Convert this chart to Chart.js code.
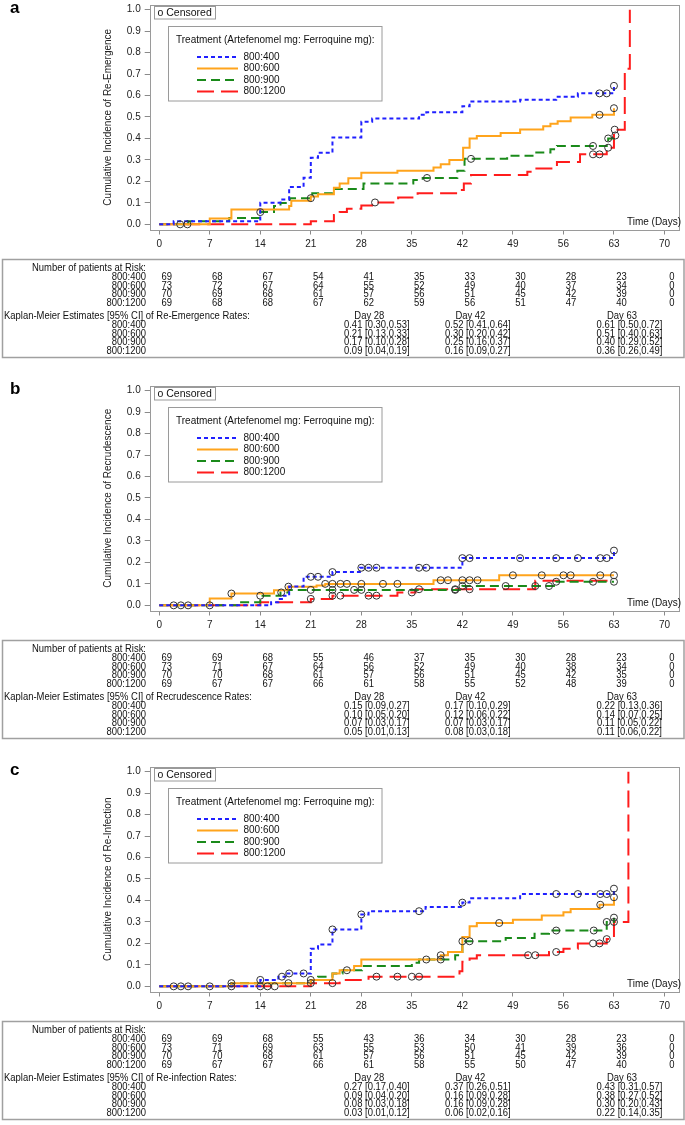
<!DOCTYPE html>
<html><head><meta charset="utf-8">
<script src="https://cdn.jsdelivr.net/npm/chart.js@4.4.1/dist/chart.umd.min.js"></script>
<style>
html,body{margin:0;padding:0;background:#fff;}
body{width:685px;height:1125px;position:relative;overflow:hidden;}
canvas{position:absolute;left:0;}
</style></head><body>
<canvas id="ca" width="685" height="362" style="top:0px"></canvas>
<canvas id="cb" width="685" height="362" style="top:381px"></canvas>
<canvas id="cc" width="685" height="362" style="top:762px"></canvas>
<script>
// ---------- shared labels ----------
const xTicks = [0,7,14,21,28,35,42,49,56,63,70];
const yTicks = [0,0.1,0.2,0.3,0.4,0.5,0.6,0.7,0.8,0.9,1.0];
const groups = ['800:400','800:600','800:900','800:1200'];
const kmDays = [28,42,63];
const letters = ['a','b','c'];
const yTitles = ['Cumulative Incidence of Re-Emergence','Cumulative Incidence of Recrudescence','Cumulative Incidence of Re-Infection'];
const kmTitles = ['Kaplan-Meier Estimates [95% CI] of Re-Emergence Rates:','Kaplan-Meier Estimates [95% CI] of Recrudescence Rates:','Kaplan-Meier Estimates [95% CI] of Re-infection Rates:'];

// ---------- panel a: re-emergence (time, cumulative incidence) ----------
const a400 = [[0,0],[2,0.0145],[14,0.101],[16.8,0.116],[18,0.174],[20,0.217],[21,0.31],[22,0.333],[24,0.405],[28,0.478],[29.5,0.493],[36,0.51],[37,0.522],[42,0.55],[43,0.572],[50,0.58],[55,0.594],[58,0.61],[63,0.645]];
const a600 = [[0,0],[7,0.027],[10,0.069],[18,0.085],[18.3,0.11],[21,0.13],[22,0.14],[24.2,0.17],[25,0.19],[26.2,0.215],[28,0.24],[33,0.25],[38,0.265],[39,0.28],[40.2,0.30],[42.1,0.357],[43,0.40],[44,0.411],[47.3,0.426],[50,0.442],[53.2,0.457],[54.2,0.469],[55.2,0.48],[57,0.498],[60,0.51],[63,0.541]];
const a900 = [[0,0],[4,0.0143],[9.7,0.029],[14,0.057],[15.9,0.085],[16.8,0.10],[18.1,0.122],[21.2,0.145],[24,0.165],[28.3,0.19],[35.2,0.207],[36.5,0.216],[41.3,0.25],[42.3,0.305],[48.2,0.32],[52.1,0.335],[54.2,0.35],[55.1,0.365],[62,0.385],[62.2,0.40],[63,0.414]];
const a1200 = [[0,0],[21,0.0145],[24.2,0.044],[25,0.058],[26,0.073],[28,0.088],[29.5,0.102],[33.1,0.125],[35.8,0.145],[41.3,0.16],[42.2,0.19],[43.2,0.23],[51,0.245],[52.1,0.26],[55.1,0.29],[58.3,0.326],[62,0.357],[63,0.441],[64.5,0.725],[65.2,1.0]];
const a400c = [61,62,63];
const a600c = [61,63];
const a900c = [14,21,37.1,43.2,60.1,62.2,63.2];
const a1200c = [2.9,3.9,29.9,60.1,61,62.2,63.1];
const aRisk400 = [69,68,67,54,41,35,33,30,28,23,0];
const aRisk600 = [73,72,67,64,55,52,49,40,37,34,0];
const aRisk900 = [70,69,68,61,57,56,51,45,42,39,0];
const aRisk1200 = [69,68,68,67,62,59,56,51,47,40,0];
const aKm400 = ['0.41 [0.30,0.53]','0.52 [0.41,0.64]','0.61 [0.50,0.72]'];
const aKm600 = ['0.21 [0.13,0.33]','0.30 [0.20,0.42]','0.51 [0.40,0.63]'];
const aKm900 = ['0.17 [0.10,0.28]','0.25 [0.16,0.37]','0.40 [0.29,0.52]'];
const aKm1200 = ['0.09 [0.04,0.19]','0.16 [0.09,0.27]','0.36 [0.26,0.49]'];

// ---------- panel b: recrudescence ----------
const b400 = [[0,0],[15.5,0.015],[16.5,0.03],[17,0.045],[18,0.088],[20,0.133],[24,0.155],[27.8,0.175],[42,0.22],[63,0.255]];
const b600 = [[0,0],[7,0.032],[10,0.055],[15.9,0.07],[17.8,0.087],[21.8,0.093],[23,0.10],[38,0.117],[47.1,0.14],[63,0.14]];
const b900 = [[0,0],[11,0.0145],[14,0.045],[16.8,0.06],[17.9,0.072],[42,0.09],[55,0.11],[63,0.11]];
const b1200 = [[0,0],[14,0.0145],[21,0.03],[24,0.045],[33,0.06],[35.5,0.075],[52.1,0.115],[63,0.115]];
const b400c = [21,22,24,28,29,30.1,36,37,42,43,50,55,58,61.1,62,63];
const b600c = [10,17.9,23,24,25.1,26,28,31,33,39,40,42,43,44.1,49,53,56,57,61.1,63];
const b900c = [14,16.9,21,24,27,28,41,42,48,52.1,54,55,60.1,63];
const b1200c = [2,3,4,7,21,24,25.1,29,30.1,35,36,41,43];
const bRisk400 = [69,69,68,55,46,37,35,30,28,23,0];
const bRisk600 = [73,71,67,64,56,52,49,40,38,34,0];
const bRisk900 = [70,70,68,61,57,56,51,45,42,35,0];
const bRisk1200 = [69,67,67,66,61,58,55,52,48,39,0];
const bKm400 = ['0.15 [0.09,0.27]','0.17 [0.10,0.29]','0.22 [0.13,0.36]'];
const bKm600 = ['0.10 [0.05,0.20]','0.12 [0.06,0.22]','0.14 [0.07,0.25]'];
const bKm900 = ['0.07 [0.03,0.17]','0.07 [0.03,0.17]','0.11 [0.05,0.22]'];
const bKm1200 = ['0.05 [0.01,0.13]','0.08 [0.03,0.18]','0.11 [0.06,0.22]'];

// ---------- panel c: re-infection ----------
const c400 = [[0,0],[14,0.03],[16.5,0.045],[17.5,0.06],[21,0.175],[22,0.195],[24,0.265],[28,0.335],[29,0.35],[36.9,0.37],[42,0.39],[43,0.41],[50,0.43],[63,0.455]];
const c600 = [[0,0],[10,0.015],[21,0.03],[24,0.06],[25,0.075],[27,0.095],[28,0.125],[39,0.145],[40,0.16],[42,0.23],[43,0.28],[44,0.295],[49,0.31],[53,0.33],[56,0.345],[57,0.36],[61,0.38],[63,0.415]];
const c900 = [[0,0],[10,0.015],[21,0.03],[22,0.045],[24,0.06],[25.4,0.075],[28.1,0.095],[35,0.11],[36,0.125],[41,0.145],[41.6,0.16],[42,0.21],[48,0.225],[52,0.245],[54,0.26],[62,0.30],[63,0.32]];
const c1200 = [[0,0],[21,0.015],[25,0.03],[29,0.045],[41.6,0.07],[42,0.115],[43,0.13],[44,0.145],[54,0.16],[56,0.175],[58,0.20],[62,0.22],[63,0.30],[65,1.0]];
const c400c = [14,17,18,20,24,28,36,42,55,58,61.1,62,63];
const c600c = [10,26,39,47.1,61.1,63];
const c900c = [17.9,21,37,39,42,43,55,60.2,62,63];
const c1200c = [2,3,4,7,10,14,15,16,21,24,30.1,33,35,36,51.1,52.1,55,60.1,61,62,63];
const cRisk400 = [69,69,68,55,43,36,34,30,28,23,0];
const cRisk600 = [73,71,69,63,55,53,50,41,39,36,0];
const cRisk900 = [70,70,68,61,57,56,51,45,42,39,0];
const cRisk1200 = [69,67,67,66,61,58,55,50,47,40,0];
const cKm400 = ['0.27 [0.17,0.40]','0.37 [0.26,0.51]','0.43 [0.31,0.57]'];
const cKm600 = ['0.09 [0.04,0.20]','0.16 [0.09,0.28]','0.38 [0.27,0.52]'];
const cKm900 = ['0.08 [0.03,0.18]','0.16 [0.09,0.28]','0.30 [0.20,0.43]'];
const cKm1200 = ['0.03 [0.01,0.12]','0.06 [0.02,0.16]','0.22 [0.14,0.35]'];

// ---------- styles ----------
const colors = ['#2020ff','#ffa41c','#1a8a1a','#ff1c1c'];
const dashes = [[4,3],[],[9,5],[17,7]];
const FONT = "'Liberation Sans', Arial, sans-serif";

const panels = [
  {id:'ca', series:[a400,a600,a900,a1200], cens:[a400c,a600c,a900c,a1200c], risk:[aRisk400,aRisk600,aRisk900,aRisk1200], km:[aKm400,aKm600,aKm900,aKm1200]},
  {id:'cb', series:[b400,b600,b900,b1200], cens:[b400c,b600c,b900c,b1200c], risk:[bRisk400,bRisk600,bRisk900,bRisk1200], km:[bKm400,bKm600,bKm900,bKm1200]},
  {id:'cc', series:[c400,c600,c900,c1200], cens:[c400c,c600c,c900c,c1200c], risk:[cRisk400,cRisk600,cRisk900,cRisk1200], km:[cKm400,cKm600,cKm900,cKm1200]}
];

function stepAt(pts, t){ let v = 0; for (const p of pts){ if (p[0] <= t + 1e-9) v = p[1]; } return v; }
function tx(ctx, s, x, y, align, sx){ ctx.save(); ctx.translate(x, y); ctx.scale(sx || 1, 1); ctx.textAlign = align; ctx.fillText(s, 0, 0); ctx.restore(); }

const deco = {
  id: 'deco',
  afterDraw(chart, args, o){
    const k = o.k, P = panels[k];
    const ctx = chart.ctx, ca = chart.chartArea, xs = chart.scales.x;
    ctx.save();
    // frame
    ctx.strokeStyle = '#9a9a9a'; ctx.lineWidth = 1;
    ctx.strokeRect(Math.round(ca.left) + 0.5, Math.round(ca.top) + 0.5, Math.round(ca.right) - Math.round(ca.left) - 1, Math.round(ca.bottom) - Math.round(ca.top));
    // panel letter
    ctx.fillStyle = '#000'; ctx.textBaseline = 'alphabetic';
    ctx.font = 'bold 17px ' + FONT; ctx.textAlign = 'left';
    ctx.fillText(letters[k], 10, 13);
    // censored box
    ctx.strokeStyle = '#9a9a9a';
    ctx.strokeRect(154.5, 6.5, 61, 12.5);
    ctx.textBaseline = 'middle'; ctx.fillStyle = '#111';
    ctx.font = '10.5px ' + FONT;
    ctx.fillText('o Censored', 157.5, 13);
    // legend box
    ctx.strokeRect(168.5, 26.5, 213.5, 74.5);
    ctx.font = '10px ' + FONT;
    ctx.fillText('Treatment (Artefenomel mg: Ferroquine mg):', 176, 40);
    const ly = [57, 68.5, 80, 91.5];
    for (let i = 0; i < 4; i++){
      const ds = chart.data.datasets[i];
      ctx.save();
      ctx.strokeStyle = ds.borderColor; ctx.lineWidth = 2; ctx.setLineDash(ds.borderDash);
      ctx.beginPath(); ctx.moveTo(197, ly[i]); ctx.lineTo(238, ly[i]); ctx.stroke();
      ctx.restore();
      ctx.fillText(groups[i], 243.5, ly[i]);
    }
    // Time (Days)
    ctx.textAlign = 'right';
    ctx.fillText('Time (Days)', 681, 222);
    // table
    ctx.strokeStyle = '#a0a0a0'; ctx.lineWidth = 1.5;
    ctx.strokeRect(2.5, 259.5, 681.5, 98);
    ctx.font = '10.5px ' + FONT; ctx.fillStyle = '#111';
    const SX = 0.9;
    tx(ctx, 'Number of patients at Risk:', 146, 268.5, 'right', SX);
    for (let i = 0; i < 4; i++){
      const y = 277 + i * 8.67;
      tx(ctx, groups[i], 146, y, 'right', SX);
      P.risk[i].forEach((n, j) => tx(ctx, String(n), xs.getPixelForValue(xTicks[j]) + 7.5, y, 'center', SX));
    }
    tx(ctx, kmTitles[k], 4, 316.5, 'left', SX);
    kmDays.forEach(d => tx(ctx, 'Day ' + d, xs.getPixelForValue(d) + 8, 316.5, 'center', SX));
    for (let i = 0; i < 4; i++){
      const y = 325.2 + i * 8.67;
      tx(ctx, groups[i], 146, y, 'right', SX);
      P.km[i].forEach((s, j) => tx(ctx, s, xs.getPixelForValue(kmDays[j]) + 15.5, y, 'center', SX));
    }
    ctx.restore();
  }
};

Chart.defaults.font.family = FONT;
Chart.defaults.color = '#222';

panels.forEach((P, k) => {
  const datasets = [];
  P.series.forEach((s, i) => datasets.push({
    label: groups[i], data: s.map(p => ({x: p[0], y: p[1]})), stepped: true,
    borderColor: colors[i], borderWidth: 2, borderDash: dashes[i], pointRadius: 0, fill: false, order: i
  }));
  P.cens.forEach((c, i) => datasets.push({
    label: 'Censored ' + groups[i], data: c.map(t => ({x: t, y: stepAt(P.series[i], t)})),
    showLine: false, pointRadius: 3.5, pointBorderColor: '#333', pointBackgroundColor: 'rgba(0,0,0,0)',
    pointBorderWidth: 1, order: -1
  }));
  new Chart(document.getElementById(P.id), {
    type: 'line',
    data: {datasets},
    options: {
      responsive: false, animation: false, devicePixelRatio: 1,
      layout: {padding: {top: 2.3, left: 0, right: 1, bottom: 0}},
      plugins: {legend: {display: false}, tooltip: {enabled: false}, deco: {k}},
      scales: {
        x: {
          type: 'linear', min: -1.32, max: 72.15,
          afterBuildTicks: ax => { ax.ticks = xTicks.map(v => ({value: v})); },
          afterFit: s => { s.height = 132.5; s.paddingLeft = 0; s.paddingRight = 0; },
          ticks: {autoSkip: false, maxRotation: 0, minRotation: 0, padding: 4, font: {size: 10}, color: '#222'},
          grid: {drawOnChartArea: false, drawTicks: true, tickLength: 5, color: '#8a8a8a'},
          border: {display: false}
        },
        y: {
          type: 'linear', min: -0.024, max: 1.0216,
          afterBuildTicks: ax => { ax.ticks = yTicks.map(v => ({value: v})); },
          afterFit: s => { s.width = 149.7; s.paddingTop = 0; s.paddingBottom = 0; },
          ticks: {padding: 4, font: {size: 10}, color: '#222', callback: v => Number(v).toFixed(1)},
          grid: {drawOnChartArea: false, drawTicks: true, tickLength: 5, color: '#8a8a8a'},
          border: {display: false},
          title: {display: true, text: yTitles[k], font: {size: 10}, color: '#222', padding: {top: 102, bottom: 0}}
        }
      }
    },
    plugins: [deco]
  });
});
</script>
</body></html>
